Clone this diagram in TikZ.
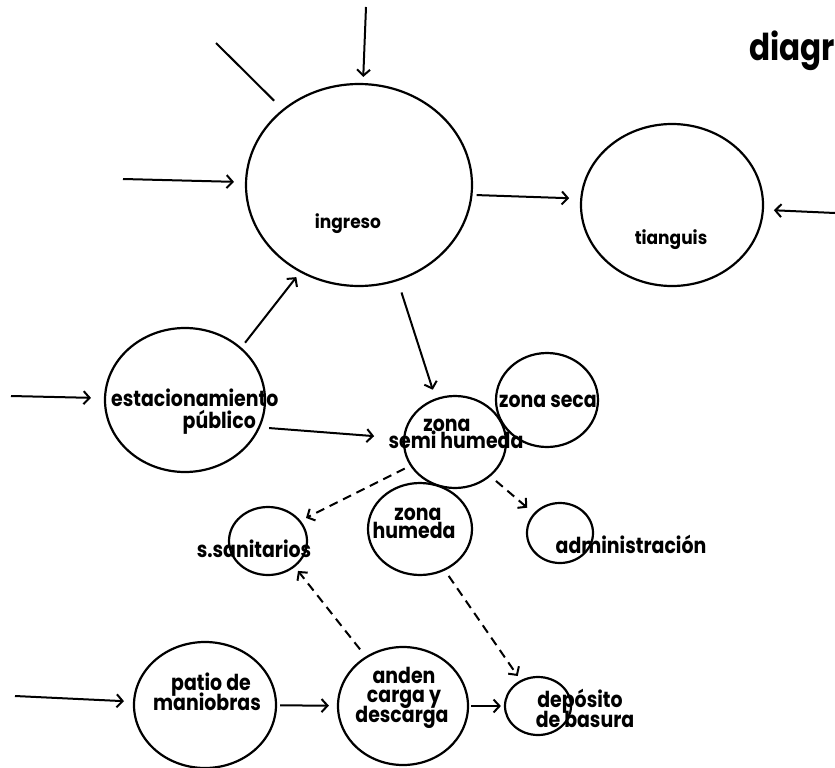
\documentclass[tikz,border=0pt]{standalone}
\usepackage{fontspec}
\setmainfont{Poppins}
\newfontfamily\lblfont{Poppins}[FakeStretch=0.86]
\newfontfamily\medfont{Poppins}[FakeStretch=0.92]
\newfontfamily\headfont{Poppins}[FakeStretch=0.84]
\usetikzlibrary{shapes.geometric,arrows.meta}
\begin{document}
\begin{tikzpicture}[x=1pt,y=-1pt,
  zone/.style={draw, ellipse, line width=2.2pt, inner sep=0pt},
  lbl/.style={font=\lblfont\bfseries\fontsize{22}{22}\selectfont, inner sep=0pt, anchor=base},
  lblthin/.style={font=\medfont\bfseries\fontsize{18.5}{18.5}\selectfont, inner sep=0pt, anchor=base},
  plainline/.style={line width=2pt},
  arr/.style={line width=2pt, -{Straight Barb[length=6pt,width=13pt,line width=2pt]}},
  darr/.style={arr, dash pattern=on 9pt off 6pt}]
\useasboundingbox (0,0) rectangle (835,768);
\clip (0,0) rectangle (835,768);

% zones
\node[zone, minimum width=226pt, minimum height=202pt] (ing)  at (359,185) {};
\node[zone, minimum width=182pt, minimum height=162pt] (tia)  at (672,205) {};
\node[zone, minimum width=160pt, minimum height=144pt] (est)  at (185,400) {};
\node[zone, minimum width=102pt, minimum height=92pt]  (semi) at (455,442) {};
\node[zone, minimum width=102pt, minimum height=94pt]  (seca) at (547,400) {};
\node[zone, minimum width=78pt,  minimum height=68pt]  (san)  at (268,541) {};
\node[zone, minimum width=104pt, minimum height=92pt]  (hum)  at (420,529) {};
\node[zone, minimum width=66pt,  minimum height=60pt]  (adm)  at (560,533) {};
\node[zone, minimum width=142pt, minimum height=126pt] (pat)  at (205,705) {};
\node[zone, minimum width=130pt, minimum height=118pt] (and)  at (403,706) {};
\node[zone, minimum width=66pt,  minimum height=58pt]  (dep)  at (538,706) {};

% labels
\node[font=\headfont\bfseries\fontsize{37}{37}\selectfont, inner sep=0pt, anchor=base west] (title) at (749,60) {diagr};
\node[lblthin] (tIng) at (348,228) {ingreso};
\node[lblthin] (tTia) at (671,244) {tianguis};
\node[lbl, anchor=base west] (tEst1) at (111,406) {estacionamiento};
\node[lbl, anchor=base east] (tEst2) at (256,428) {público};
\node[lbl] (tSemi1) at (447,431) {zona};
\node[lbl] (tSemi2) at (456,448) {semi humeda};
\node[lbl] (tSeca) at (548,407) {zona seca};
\node[lbl] (tSan) at (254,557) {s.sanitarios};
\node[lbl] (tHum1) at (418,520) {zona};
\node[lbl] (tHum2) at (414,538) {humeda};
\node[lbl] (tAdm) at (631,553) {administración};
\node[lbl] (tPat1) at (211,690) {patio de};
\node[lbl] (tPat2) at (207,710) {maniobras};
\node[lbl] (tAnd1) at (404,683) {anden};
\node[lbl] (tAnd2) at (404,702) {carga y};
\node[lbl] (tAnd3) at (402,722) {descarga};
\node[lbl] (tDep1) at (580,707) {depósito};
\node[lbl] (tDep2) at (585,727) {de basura};

% free ends of the incoming lines
\coordinate (inTop)   at (366,7);
\coordinate (inDiag)  at (216,43);
\coordinate (inLeft)  at (123,179);
\coordinate (inRight) at (835,213);
\coordinate (inEst)   at (11,396);
\coordinate (inPat)   at (15,696);

% solid connectors
\draw[arr, shorten >=6pt] (inTop) -- (ing);
\draw[plainline, shorten >=12pt] (inDiag) -- (ing);
\draw[arr, shorten >=11pt] (inLeft) -- (ing);
\draw[arr, shorten <=4pt, shorten >=11pt] (ing.-5) -- (tia.176);
\draw[arr, shorten >=10pt] (inRight) -- (tia.-3);
\draw[arr, shorten <=6pt, shorten >=6pt] (est.43) -- (ing.-124);
\draw[arr, shorten <=12pt, shorten >=9pt] (ing.-68) -- (semi.114);
\draw[arr, shorten >=13pt] (inEst) -- (est);
\draw[arr, shorten <=9pt, shorten >=29pt] (est.-20) -- (semi.176);
\draw[arr, shorten >=9pt] (inPat) -- (pat);
\draw[arr, shorten <=3pt, shorten >=8pt] (pat) -- (and);
\draw[arr, shorten <=2pt, shorten >=3pt] (and) -- (dep);

% dashed connectors
\draw[darr, shorten <=6pt, shorten >=6pt] (semi.208) -- (san.32);
\draw[darr, shorten <=7pt, shorten >=8.5pt] (semi.-44) -- (adm.143);
\draw[darr, shorten <=9pt, shorten >=5pt] (and.127) -- (san.-44);
\draw[darr, shorten <=6.5pt, shorten >=5pt] (hum.-59) -- (dep.124);
\end{tikzpicture}
\end{document}
